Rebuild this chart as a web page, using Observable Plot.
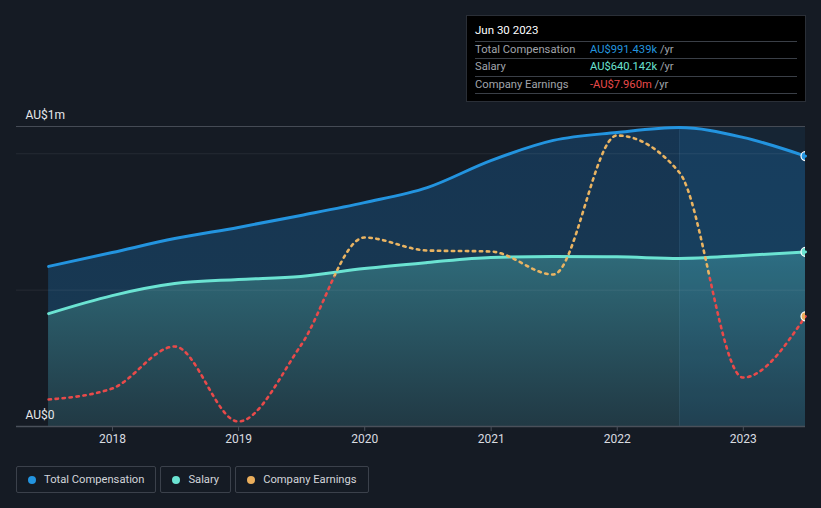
<!DOCTYPE html>
<html><head><meta charset="utf-8">
<script src="https://cdn.jsdelivr.net/npm/d3@7"></script>
<script src="https://cdn.jsdelivr.net/npm/@observablehq/plot@0.6"></script>
<style>
body{margin:0;background:#151b24;font-family:Roboto,"Noto Sans",sans-serif;}
#wrap{position:relative;width:821px;height:508px;overflow:hidden;background:#151b24;}
#main,#over{position:absolute;left:0;top:0;}
#tip{position:absolute;left:466px;top:15px;width:340px;height:87px;background:#000;border:1px solid #2a2f37;box-sizing:border-box;padding:0 8px;font-size:11.2px;}
#tip .t{color:#fff;height:25px;line-height:28px;border-bottom:1px solid #3a3f47;font-size:11.5px;}
#tip .r{height:16.3px;line-height:16.3px;border-bottom:1px solid #3a3f47;display:flex;color:#a0a4ab;}
#tip .r span.l{width:115px;}
#tip .u{color:#a0a4ab;}
#legend{position:absolute;top:466px;left:16px;display:flex;gap:4px;}
#legend .b{height:27px;box-sizing:border-box;border:1px solid #3b414b;border-radius:2px;display:flex;align-items:center;padding:0 11px;color:#d2d5da;font-size:11.2px;}
#legend .d{width:8px;height:8px;border-radius:50%;margin-right:8px;}
</style></head>
<body>
<div id="wrap">
  <div id="main"></div>
  <div id="over"></div>
  <div id="tip"></div>
  <div id="legend"></div>
</div>
<script>
// ---- data (values in AU$ millions) ----
const dates = ["2017-06-30","2017-12-31","2018-06-30","2018-12-31","2019-06-30","2019-12-31","2020-06-30","2020-12-31","2021-06-30","2021-12-31","2022-06-30","2022-12-31","2023-06-30"];
const totalComp = [0.587,0.638,0.689,0.730,0.774,0.821,0.876,0.975,1.049,1.078,1.096,1.060,0.991439];
const salary    = [0.414,0.480,0.524,0.539,0.550,0.579,0.601,0.620,0.623,0.622,0.616,0.627,0.640142];
const earnings  = [-24.6,-22.4,-14.0,-29.0,-13.8,7.8,5.2,5.0,0.4,28.2,20.8,-20.2,-7.96];
const yearTicks = ["2018-01-01","2019-01-01","2020-01-01","2021-01-01","2022-01-01","2023-01-01"];
const yLabels = [{label:"AU$0", v:0}, {label:"AU$1m", v:1.1}];
const gridValues = [0.5, 1];
const highlight = [{x1:"2022-06-30", x2:"2023-06-30"}];
const legendItems = [["Total Compensation","#2394df"],["Salary","#6be3d2"],["Company Earnings","#eaae5c"]];
const tipTitle = "Jun 30 2023";
const tipRows = [["Total Compensation","AU$991.439k","#2394df"],["Salary","AU$640.142k","#6be3d2"],["Company Earnings","-AU$7.960m","#e84a4a"]];

const rows = dates.map((d,i)=>({date:new Date(d), total:totalComp[i], salary:salary[i], earn:earnings[i]}));
const last = [rows[rows.length-1]];
const W = 821, H = 455;
const xDomain = [new Date("2017-03-29"), new Date("2023-06-30")];
const common = {width:W, height:H, marginTop:126, marginBottom:29, marginLeft:16, marginRight:16};

const main = Plot.plot({
  ...common,
  style:{background:"transparent", color:"#d9dce1", fontFamily:"Roboto, sans-serif", fontSize:"12px"},
  x:{type:"utc", domain:xDomain},
  y:{domain:[0,1.1], axis:null},
  marks:[
    Plot.areaY(rows,{x:"date", y:"total", fill:"url(#gTot)", curve:"monotone-x"}),
    Plot.areaY(rows,{x:"date", y:"salary", fill:"url(#gSal)", curve:"monotone-x"}),
    Plot.rect(highlight,{x1:d=>new Date(d.x1), x2:d=>new Date(d.x2), y1:0, y2:1.1, fill:"#2394df", fillOpacity:0.09}),
    Plot.ruleX(highlight,{x:d=>new Date(d.x1), y1:0, y2:1.1, stroke:"#ffffff", strokeOpacity:0.06}),
    Plot.ruleY(gridValues,{stroke:"#ffffff", strokeOpacity:0.07}),
    Plot.ruleY([1.1],{stroke:"#454b55"}),
    Plot.lineY(rows,{x:"date", y:"total", stroke:"#2394df", strokeWidth:3, curve:"monotone-x"}),
    Plot.lineY(rows,{x:"date", y:"salary", stroke:"#6be3d2", strokeWidth:3, curve:"monotone-x"}),
    Plot.ruleY([0],{stroke:"#4a505a", strokeWidth:1.5}),
    Plot.axisX({ticks:yearTicks.map(d=>new Date(d)), tickFormat:d3.utcFormat("%Y"), tickSize:5, tickPadding:3, stroke:"#4a505a", fill:"#d9dce1", label:null}),
    Plot.text(yLabels,{x:()=>xDomain[0], y:"v", text:"label", dx:9, dy:-11, textAnchor:"start", fill:"#e6e8eb", fontSize:12}),
    Plot.dot(last,{x:"date", y:"total", r:4.5, fill:"#2394df", stroke:"#ffffff", strokeWidth:1.2, clip:"frame"}),
    Plot.dot(last,{x:"date", y:"salary", r:4.5, fill:"#6be3d2", stroke:"#ffffff", strokeWidth:1.2, clip:"frame"})
  ]
});
d3.select(main).insert("defs",":first-child").html(`
  <linearGradient id="gTot" x1="0" y1="0" x2="0" y2="1">
    <stop offset="0" stop-color="#163552"/><stop offset="1" stop-color="#193a52"/>
  </linearGradient>
  <linearGradient id="gSal" x1="0" y1="0" x2="0" y2="1">
    <stop offset="0" stop-color="#2f6b7a"/><stop offset="1" stop-color="#213944"/>
  </linearGradient>`);
document.getElementById("main").appendChild(main);

const over = Plot.plot({
  ...common,
  style:{background:"transparent"},
  x:{type:"utc", domain:xDomain, axis:null},
  y:{domain:[-30,30], axis:null},
  marks:[
    Plot.lineY(rows,{x:"date", y:"earn", stroke:"#e84a4a", strokeWidth:2.6, strokeDasharray:"2.4,4.6", curve:"monotone-x"}),
    Plot.lineY(rows,{x:"date", y:"earn", stroke:"#eab462", strokeWidth:2.6, strokeDasharray:"2.4,4.6", curve:"monotone-x"}),
    Plot.dot(last,{x:"date", y:"earn", r:4.5, fill:"#eaae5c", stroke:"#ffffff", strokeWidth:1.2, clip:"frame"})
  ]
});
const y0 = over.scale("y").apply(0);
d3.select(over).insert("defs",":first-child").html(`
  <clipPath id="cNeg"><rect x="0" y="${y0}" width="${W}" height="${H-y0}"/></clipPath>
  <clipPath id="cPos"><rect x="0" y="0" width="${W}" height="${y0}"/></clipPath>`);
const lg = over.querySelectorAll('g[aria-label="line"]');
lg[0].setAttribute("clip-path","url(#cNeg)");
lg[1].setAttribute("clip-path","url(#cPos)");
document.getElementById("over").appendChild(over);

// tooltip
const tip = d3.select("#tip");
tip.append("div").attr("class","t").text(tipTitle);
tipRows.forEach(([l,v,c])=>{
  const r = tip.append("div").attr("class","r");
  r.append("span").attr("class","l").text(l);
  r.append("span").style("color",c).html(v+"&nbsp;");
  r.append("span").attr("class","u").text("/yr");
});
// legend
const lgd = d3.select("#legend");
legendItems.forEach(([l,c])=>{
  const b = lgd.append("div").attr("class","b");
  b.append("div").attr("class","d").style("background",c);
  b.append("span").text(l);
});
</script>
</body></html>
